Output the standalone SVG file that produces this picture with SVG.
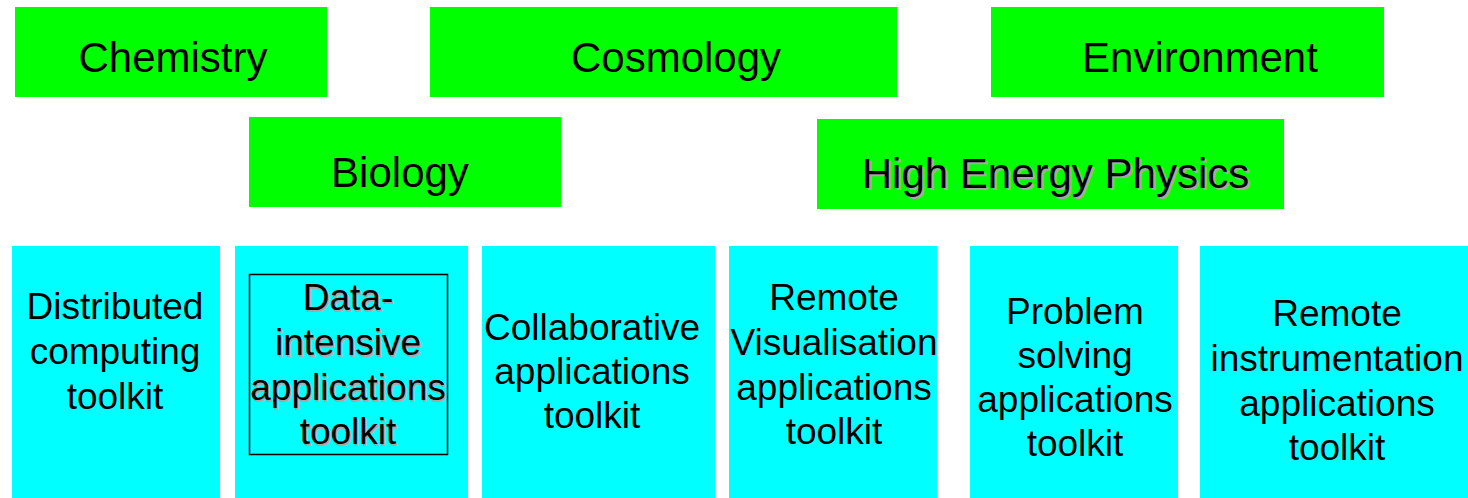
<svg xmlns="http://www.w3.org/2000/svg" width="1468" height="498" viewBox="0 0 1468 498">
<style>
.g{fill:#00ff00}
.c{fill:#00ffff}
text{font-family:"Liberation Sans",Arial,sans-serif;fill:#000;text-anchor:middle}
.t1{font-size:42px}
.t2{font-size:37px}
.sh{fill:#a8a8a8}
</style>
<rect width="1468" height="498" fill="#fff"/>
<g id="chemistry"><rect class="g" x="15" y="7" width="312" height="90"/><text class="t1" x="173" y="72">Chemistry</text></g>
<g id="cosmology"><rect class="g" x="430" y="7" width="467" height="90"/><text class="t1" x="676" y="72">Cosmology</text></g>
<g id="environment"><rect class="g" x="991" y="7" width="393" height="90"/><text class="t1" x="1200" y="72">Environment</text></g>
<g id="biology"><rect class="g" x="249" y="117" width="312" height="90"/><text class="t1" x="400" y="187">Biology</text></g>
<g id="hep"><rect class="g" x="817" y="119" width="467" height="90"/><text class="t1 sh" x="1057.5" y="189.5">High Energy Physics</text><text class="t1" x="1055.5" y="187.5">High Energy Physics</text></g>
<g id="distributed"><rect class="c" x="12" y="246" width="208" height="252"/><text class="t2" x="115"><tspan x="115" y="319">Distributed</tspan><tspan x="115" y="364">computing</tspan><tspan x="115" y="409">toolkit</tspan></text></g>
<g id="data"><rect class="c" x="235" y="246" width="233" height="252"/><rect x="249.5" y="274.5" width="198" height="180" fill="none" stroke="#000" stroke-width="1.5"/><text class="t2 sh" x="349.5"><tspan x="349.5" y="311.5">Data-</tspan><tspan x="349.5" y="356.5">intensive</tspan><tspan x="349.5" y="401.5">applications</tspan><tspan x="349.5" y="445.5">toolkit</tspan></text><text class="t2" x="348"><tspan x="348" y="310">Data-</tspan><tspan x="348" y="355">intensive</tspan><tspan x="348" y="400">applications</tspan><tspan x="348" y="444">toolkit</tspan></text></g>
<g id="collab"><rect class="c" x="482" y="246" width="233" height="252"/><text class="t2" x="592"><tspan x="592" y="340">Collaborative</tspan><tspan x="592" y="384">applications</tspan><tspan x="592" y="428">toolkit</tspan></text></g>
<g id="remvis"><rect class="c" x="729" y="246" width="208" height="252"/><text class="t2" x="834"><tspan x="834" y="310">Remote</tspan><tspan x="834" y="355">Visualisation</tspan><tspan x="834" y="400">applications</tspan><tspan x="834" y="444">toolkit</tspan></text></g>
<g id="problem"><rect class="c" x="970" y="246" width="208" height="252"/><text class="t2" x="1075"><tspan x="1075" y="324">Problem</tspan><tspan x="1075" y="368">solving</tspan><tspan x="1075" y="412">applications</tspan><tspan x="1075" y="456">toolkit</tspan></text></g>
<g id="reminst"><rect class="c" x="1200" y="246" width="268" height="252"/><text class="t2" x="1337"><tspan x="1337" y="326">Remote</tspan><tspan x="1337" y="371">instrumentation</tspan><tspan x="1337" y="416">applications</tspan><tspan x="1337" y="460">toolkit</tspan></text></g>
<g id="connectors"/>
</svg>
